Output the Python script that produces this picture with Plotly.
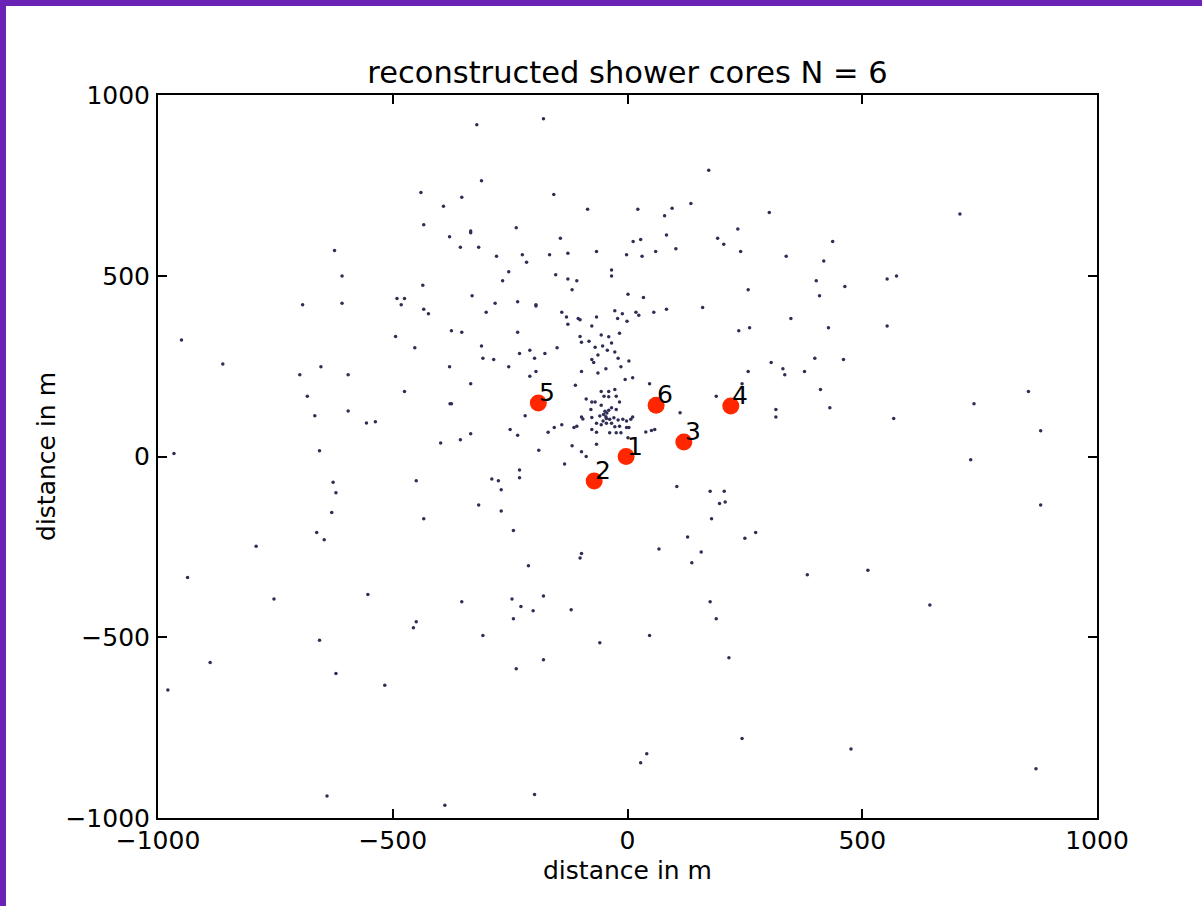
import plotly.graph_objects as go

# ---------------- data ----------------
dots_x = [
    -624, -608, -692, -608,
    -321, -179, -311, -440, -353, -157, -392, -85, -434, -334, -334, -237, -379, -143, -356, -317,
    -279, -224, -166, -127, -66, -2, -215, -34, -34, -253, -153, -127, -108, -266, -118, -436, 1,
    -331, -491, -475, -482, -282, -234, -195, -195, -434, -424, -301, -140, -130, -105, -101, -66,
    -27, -11, -21, -1, -127, -76, -375, -353, -234, -101, -56, -17, -40, -494,
    173, 22, 95, 135, 79, 302, 235, 12, 28, 83, 192, 205, 437, 31, 60, 103, 241, 338, 418, 402,
    463, 409, 257, 34, 18, 24, 56, 83, 160, 348, 237, 260, 428,
    708, 553, 573, 553,
    -950, -862, -653, -698, -595, -682, -666, -595, -556, -537, -966, -656, -627, -621, -630, -662,
    -646, -791, -937,
    -453, -311, -379, -308, -285, -253, -230, -208, -198, -176, -150, -195, -208, -334, -475, -375,
    -378, -218, -250, -234, -334, -356, -398, -169, -156, -140, -114, -108, -189, -118, -98, -88,
    -66, -134, -450, -289, -275, -230, -230, -269, -317, -269, -434, -243, -98, -101, -211,
    -98, -82, -69, -53, -34, -43, -27, -63, -76, -72, -20, -14, 3, -46, -63, -98, -111, -5, -88, -76,
    -56, -40, -27, -50, -40, -24, -17, -69, -56, -34, -24, -78, -98, -95, -76, -59, -51, -45, -38,
    -29, -20, -10, -2, -66, -56, -45, -34, -27, -17, -2, -76, -66, -38, -24, -14, 1,
    -48, -44, -40, -52, -46,
    11, 47, 7, 11, 3, 39, 51, 58, 112, 189, 244, 257, 306, 331, 335, 377, 399, 460, 411, 431, 316,
    316, 105, 176, 206, 196, 208, 179, 128, 250, 273, 67, 157, 137, 383,
    854, 738, 567, 880, 731, 880, 512,
    -753, -553, -656, -889, -621, -517, -979, -640,
    -353, -246, -179, -227, -201, -120, -243, -450, -456, -308, -59, -179, -237, -198, -389,
    176, 189, 47, 216, 244, 41, 28, 476,
    644, 870,
]
dots_y = [
    570, 499, 420, 424,
    918, 934, 763, 730, 717, 725, 692, 684, 641, 624, 619, 633, 608, 604, 579, 579,
    554, 558, 558, 562, 567, 558, 537, 516, 499, 511, 503, 491, 486, 486, 461, 474, 449,
    445, 437, 437, 420, 424, 428, 420, 416, 407, 395, 399, 399, 386, 382, 378, 386,
    403, 395, 382, 374, 366, 361, 348, 344, 344, 332, 336, 341, 331, 332,
    792, 684, 687, 700, 666, 675, 629, 595, 600, 613, 604, 587, 595, 554, 567, 575, 567, 554, 541, 486,
    470, 445, 461, 440, 399, 391, 399, 407, 412, 382, 348, 356, 356,
    671, 491, 499, 361,
    322, 256, 248, 226, 226, 167, 113, 126, 93, 96, 8, 16, -71, -100, -155, -210,
    -230, -248, -335,
    301, 306, 248, 272, 268, 248, 285, 294, 272, 285, 301, 235, 222, 201, 180, 146,
    146, 113, 75, 59, 63, 46, 37, 67, 80, 88, 80, 84, 17, 30, 13, 0,
    34, -21, -67, -62, -67, -37, -59, -92, -134, -151, -172, -205, -268, -281, -302,
    316, 319, 302, 306, 314, 294, 289, 281, 268, 260, 272, 248, 264, 243, 231, 235, 197, 213, 159, 151,
    180, 180, 185, 167, 165, 167, 151, 151, 142, 135, 130, 130, 109, 104, 108, 112, 116, 105, 103,
    107, 101, 103, 98, 92, 88, 92, 92, 82, 84, 80, 75, 67, 66, 66, 66, 52,
    125, 120, 128, 98, 110,
    218, 201, 103, 109, 80, 68, 72, 75, 121, 167, 201, 235, 260, 243, 226, 235, 272, 268, 185, 135, 130,
    109, -83, -96, -96, -130, -126, -172, -223, -226, -210, -256, -264, -294, -327,
    180, 146, 105, 71, -9, -134, -315,
    -394, -382, -508, -570, -600, -633, -646, -939,
    -402, -394, -386, -415, -427, -424, -449, -457, -474, -495, -515, -562, -587, -935, -965,
    -402, -449, -495, -557, -780, -822, -847, -809,
    -411, -864,
]

core_x = [-3, -71, 120, 220, -190, 61]
core_y = [0, -68, 40, 140, 148, 142]
core_labels = ["1", "2", "3", "4", "5", "6"]

title_text = "reconstructed shower cores N = 6"
x_label = "distance in m"
y_label = "distance in m"
tick_vals = [-1000, -500, 0, 500, 1000]

# ---------------- layout constants ----------------
W, H = 1202, 906
ML, MR, MT, MB = 158, 105, 95, 88
PW, PH = W - ML - MR, H - MT - MB
FONT = "DejaVu Sans, Liberation Sans, sans-serif"
PURPLE = "#6a23b5"

fig = go.Figure()

fig.add_trace(go.Scatter(
    x=dots_x, y=dots_y, mode="markers",
    marker=dict(size=3.5, color="#2e2e55", line=dict(width=0)),
    hoverinfo="skip", showlegend=False,
))

fig.add_trace(go.Scatter(
    x=core_x, y=core_y, mode="markers",
    marker=dict(size=17, color="rgb(255,38,0)", line=dict(width=0)),
    hoverinfo="skip", showlegend=False,
))

for cx, cy, lab in zip(core_x, core_y, core_labels):
    fig.add_annotation(
        x=cx, y=cy, text=lab, showarrow=False,
        xanchor="left", yanchor="bottom", xshift=-1, yshift=-6,
        font=dict(family=FONT, size=25, color="black"),
    )

axis_common = dict(
    range=[-1000, 1000], tickvals=tick_vals,
    showgrid=False, zeroline=False,
    showline=True, linecolor="black", linewidth=2, mirror="ticks",
    ticks="inside", ticklen=9, tickwidth=1.5, tickcolor="black",
    tickfont=dict(family=FONT, size=25, color="black"),
)

fig.update_layout(
    width=W, height=H,
    margin=dict(l=ML, r=MR, t=MT, b=MB),
    paper_bgcolor="white", plot_bgcolor="white",
    font=dict(family=FONT, color="black"),
    title=dict(
        text=title_text, x=0.5, xanchor="center", xref="paper",
        y=1, yref="paper", yanchor="bottom", pad=dict(b=12),
        font=dict(family=FONT, size=30.5, color="black"),
    ),
    xaxis=dict(**axis_common, ticklabelstandoff=-1,
               title=dict(text=x_label, standoff=7,
                          font=dict(family=FONT, size=25, color="black"))),
    yaxis=dict(**axis_common, ticklabelstandoff=1,
               title=dict(text=y_label, standoff=3,
                          font=dict(family=FONT, size=25, color="black"))),
    shapes=[
        dict(type="rect", xref="paper", yref="paper", layer="above",
             x0=(0 - ML) / PW, x1=(6 - ML) / PW,
             y0=1 + (MT - H) / PH - 0.01, y1=1 + MT / PH + 0.01,
             fillcolor=PURPLE, line=dict(width=0)),
        dict(type="rect", xref="paper", yref="paper", layer="above",
             x0=(0 - ML) / PW - 0.01, x1=(W - ML) / PW + 0.01,
             y0=1 + (MT - 6) / PH, y1=1 + MT / PH + 0.01,
             fillcolor=PURPLE, line=dict(width=0)),
    ],
)

fig.write_html(
    "out.html",
    config={"displayModeBar": False},
    post_script="document.body.style.margin='0px';document.body.style.padding='0px';",
)
